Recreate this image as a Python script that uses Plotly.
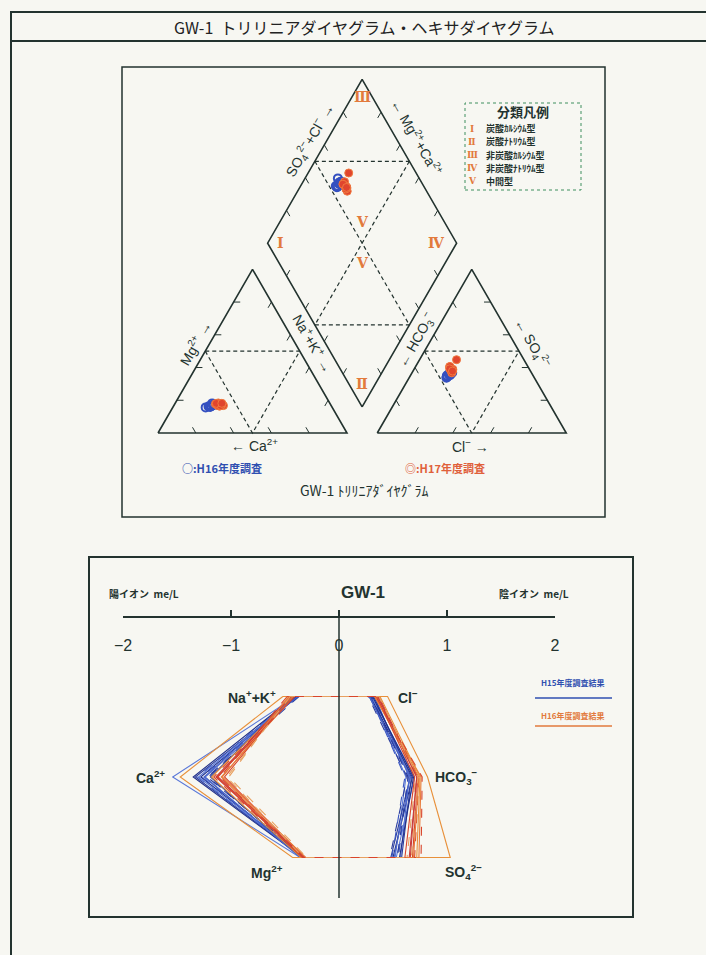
import math
import plotly.graph_objects as go

W, H = 706, 955

# ---- water quality data (me/L) ----
# blue series: piper "H16年度調査" / hexa "H15年度調査結果"
blue_nak = [0.40, 0.38, 0.41, 0.39, 0.42, 0.37, 0.40, 0.43, 0.38, 0.41, 0.39, 0.40]
blue_ca = [1.54, 1.33, 1.31, 1.28, 1.25, 1.22, 1.30, 1.19, 1.27, 1.35, 1.24, 1.21]
blue_mg = [0.36, 0.33, 0.34, 0.32, 0.35, 0.31, 0.33, 0.35, 0.32, 0.34, 0.36, 0.33]
blue_cl = [0.30, 0.28, 0.31, 0.29, 0.33, 0.27, 0.30, 0.32, 0.29, 0.31, 0.28, 0.30]
blue_hco3 = [0.62, 0.66, 0.64, 0.68, 0.65, 0.63, 0.70, 0.67, 0.61, 0.69, 0.66, 0.64]
blue_so4 = [0.52, 0.48, 0.55, 0.50, 0.57, 0.47, 0.53, 0.58, 0.49, 0.56, 0.51, 0.54]

# red series: piper "H17年度調査" / hexa "H16年度調査結果"
red_nak = [0.52, 0.44, 0.46, 0.42, 0.45, 0.47, 0.43, 0.48, 0.44, 0.46, 0.41, 0.45]
red_ca = [1.47, 1.16, 1.12, 1.09, 1.06, 1.02, 1.18, 1.10, 1.14, 1.08, 1.13, 1.04]
red_mg = [0.43, 0.33, 0.31, 0.34, 0.32, 0.30, 0.35, 0.33, 0.32, 0.31, 0.34, 0.33]
red_cl = [0.45, 0.34, 0.36, 0.33, 0.37, 0.35, 0.38, 0.34, 0.36, 0.33, 0.35, 0.37]
red_hco3 = [0.82, 0.74, 0.72, 0.76, 0.73, 0.71, 0.75, 0.77, 0.72, 0.74, 0.70, 0.73]
red_so4 = [1.03, 0.70, 0.66, 0.74, 0.68, 0.63, 0.72, 0.76, 0.65, 0.69, 0.61, 0.67]

stiff_ticks = [-2, -1, 0, 1, 2]
type_names = ['炭酸ｶﾙｼｳﾑ型', '炭酸ﾅﾄﾘｳﾑ型', '非炭酸ｶﾙｼｳﾑ型', '非炭酸ﾅﾄﾘｳﾑ型', '中間型']
type_marks = ['Ⅰ', 'Ⅱ', 'Ⅲ', 'Ⅳ', 'Ⅴ']

DARK = '#23332f'
ORANGE = '#e27a3c'
BLUE = '#2f4fb0'
JP = 'Noto Sans CJK JP'
SANS = 'Liberation Sans, Arial'


def px(x):
    return x / W


def py(y):
    return 1 - y / H


# ---- piper geometry ----
ORG_X, ORG_Y, UNIT = 158, 433, 189
G = 0.16
HH = math.sqrt(3) / 2

B = (1 + G / 2, G * HH)
R = (1.5 + G / 2, (1 + G) * HH)
T = (1 + G / 2, (2 + G) * HH)
L = (0.5 + G / 2, (1 + G) * HH)


def mid(p, q):
    return ((p[0] + q[0]) / 2, (p[1] + q[1]) / 2)


def piper_points(nak, ca, mg, cl, hco3, so4):
    pts = []
    for i in range(len(nak)):
        ct = nak[i] + ca[i] + mg[i]
        at = cl[i] + hco3[i] + so4[i]
        fna, fmg, fca = nak[i] / ct, mg[i] / ct, ca[i] / ct
        fcl, fso4 = cl[i] / at, so4[i] / at
        pts.append((fna + fmg / 2, fmg * HH))
        pts.append((1 + G + fcl + fso4 / 2, fso4 * HH))
        a = fso4 + fcl
        c = fca + fmg
        pts.append((B[0] + 0.5 * (a - c), B[1] + HH * (a + c)))
    return [p[0] for p in pts], [p[1] for p in pts]


def seg_xy(segs):
    xs, ys = [], []
    for s in segs:
        for p in s:
            xs.append(p[0])
            ys.append(p[1])
        xs.append(None)
        ys.append(None)
    return xs, ys


fig = go.Figure()

# outlines
outline = [
    [(0, 0), (1, 0), (0.5, HH), (0, 0)],
    [(1 + G, 0), (2 + G, 0), (1.5 + G, HH), (1 + G, 0)],
    [B, R, T, L, B],
]
x, y = seg_xy(outline)
fig.add_trace(go.Scatter(x=x, y=y, mode='lines', line=dict(color=DARK, width=1.6),
                         hoverinfo='skip', xaxis='x', yaxis='y'))

dashed = [
    [(0.25, HH / 2), (0.75, HH / 2)],
    [(0.25, HH / 2), (0.5, 0), (0.75, HH / 2)],
    [(1.25 + G, HH / 2), (1.75 + G, HH / 2)],
    [(1.25 + G, HH / 2), (1.5 + G, 0), (1.75 + G, HH / 2)],
    [mid(L, T), mid(T, R)],
    [mid(L, B), mid(B, R)],
    [mid(L, T), mid(B, R)],
    [mid(T, R), mid(L, B)],
]
x, y = seg_xy(dashed)
fig.add_trace(go.Scatter(x=x, y=y, mode='lines', line=dict(color=DARK, width=1.2, dash='4px,3px'),
                         hoverinfo='skip', xaxis='x', yaxis='y'))

# tick marks at 20 % steps, pointing inward
sides = [
    ((1, 0), (0, 0), (-0.5, HH)),
    ((0, 0), (0.5, HH), (1, 0)),
    ((0.5, HH), (1, 0), (-0.5, -HH)),
    ((1 + G, 0), (2 + G, 0), (0.5, HH)),
    ((2 + G, 0), (1.5 + G, HH), (-1, 0)),
    ((1.5 + G, HH), (1 + G, 0), (0.5, -HH)),
    (L, T, (0.5, -HH)),
    (T, R, (-0.5, -HH)),
    (L, B, (0.5, HH)),
    (B, R, (-0.5, HH)),
]
ticks = []
for p, q, d in sides:
    for k in (0.2, 0.4, 0.6, 0.8):
        sx = p[0] + k * (q[0] - p[0])
        sy = p[1] + k * (q[1] - p[1])
        ticks.append([(sx, sy), (sx + 0.035 * d[0], sy + 0.035 * d[1])])
x, y = seg_xy(ticks)
fig.add_trace(go.Scatter(x=x, y=y, mode='lines', line=dict(color=DARK, width=1),
                         hoverinfo='skip', xaxis='x', yaxis='y'))

# sample points
bx, by = piper_points(blue_nak, blue_ca, blue_mg, blue_cl, blue_hco3, blue_so4)
rx, ry = piper_points(red_nak, red_ca, red_mg, red_cl, red_hco3, red_so4)
fig.add_trace(go.Scatter(x=bx, y=by, mode='markers', xaxis='x', yaxis='y',
                         marker=dict(symbol='circle-open', size=8, color='#3550c0',
                                     line=dict(width=2, color='#3550c0'))))
fig.add_trace(go.Scatter(x=rx, y=ry, mode='markers', xaxis='x', yaxis='y',
                         marker=dict(symbol='circle', size=8, color='#e0452e',
                                     line=dict(width=1, color='#f07a40'))))

# ---- stiff (hexa) diagram ----
blue_styles = [('#5a78d8', 'solid'), ('#2b3d9e', 'solid'), ('#3a55c0', 'dash'),
               ('#1f2f8a', 'solid'), ('#4a66cc', 'solid'), ('#2b3d9e', 'dash')]
red_styles = [('#e8903a', 'solid'), ('#d9452b', 'dash'), ('#c83a3a', 'solid'),
              ('#e87a3a', 'solid'), ('#d9452b', 'solid'), ('#e8a060', 'dash')]


def add_stiff(nak, ca, mg, cl, hco3, so4, styles):
    for i in range(len(nak)):
        col, dash = styles[i % len(styles)]
        fig.add_trace(go.Scatter(
            x=[-nak[i], -ca[i], -mg[i], so4[i], hco3[i], cl[i], -nak[i]],
            y=[3, 2, 1, 1, 2, 3, 3], mode='lines', xaxis='x2', yaxis='y2',
            line=dict(color=col, width=1.1, dash=dash), hoverinfo='skip'))


add_stiff(blue_nak, blue_ca, blue_mg, blue_cl, blue_hco3, blue_so4, blue_styles)
add_stiff(red_nak, red_ca, red_mg, red_cl, red_hco3, red_so4, red_styles)

# ---- shapes ----
shapes = [
    dict(type='rect', xref='paper', yref='paper', x0=px(11), x1=px(730), y0=py(970), y1=py(12),
         line=dict(color=DARK, width=2)),
    dict(type='line', xref='paper', yref='paper', x0=px(11), x1=px(730), y0=py(41), y1=py(41),
         line=dict(color=DARK, width=2)),
    dict(type='rect', xref='paper', yref='paper', x0=px(122), x1=px(605), y0=py(517), y1=py(67),
         line=dict(color=DARK, width=1.5)),
    dict(type='rect', xref='paper', yref='paper', x0=px(465), x1=px(581), y0=py(190), y1=py(103),
         line=dict(color='#3f8f5f', width=1, dash='dot')),
    dict(type='rect', xref='paper', yref='paper', x0=px(89), x1=px(633), y0=py(917), y1=py(557),
         line=dict(color=DARK, width=2)),
    dict(type='line', xref='x2', yref='paper', x0=0, x1=0, y0=py(898), y1=py(612),
         line=dict(color=DARK, width=1.5), layer='above'),
    dict(type='line', xref='paper', yref='paper', x0=px(535), x1=px(612), y0=py(698), y1=py(698),
         line=dict(color=BLUE, width=1.5)),
    dict(type='line', xref='paper', yref='paper', x0=px(535), x1=px(612), y0=py(726), y1=py(726),
         line=dict(color=ORANGE, width=1.5)),
]


def ann(text, x, y, size, color=DARK, family=SANS, angle=0, xanchor='center'):
    return dict(text=text, x=px(x), y=py(y), xref='paper', yref='paper', showarrow=False,
                textangle=angle, xanchor=xanchor, yanchor='middle',
                font=dict(size=size, color=color, family=family))


def unit_px(p):
    return ORG_X + p[0] * UNIT, ORG_Y - p[1] * UNIT


annotations = [
    ann('GW-1  トリリニアダイヤグラム・ヘキサダイヤグラム', 364, 27, 16, color='#222', family=JP),
    # piper axis labels
    ann('Mg<sup>2+</sup> →', 195, 343, 14, angle=-60),
    ann('Na<sup>+</sup>+K<sup>+</sup> →', 313, 343, 14, angle=60),
    ann('← Ca<sup>2+</sup>', 254, 445, 14),
    ann('← HCO<sub>3</sub><sup>−</sup>', 416, 340, 14, angle=-60),
    ann('← SO<sub>4</sub><sup>2−</sup>', 532, 343, 14, angle=60),
    ann('Cl<sup>−</sup> →', 471, 446, 14),
    ann('SO<sub>4</sub><sup>2−</sup>+Cl<sup>−</sup> →', 310, 140, 14, angle=-60),
    ann('← Mg<sup>2+</sup>+Ca<sup>2+</sup>', 417, 137, 14, angle=60),
    ann('<b>○:H16年度調査</b>', 222, 468, 11, color=BLUE, family=JP),
    ann('<b>◎:H17年度調査</b>', 445, 468, 11, color='#e0603a', family=JP),
    ann('GW-1 ﾄﾘﾘﾆｱﾀﾞｲﾔｸﾞﾗﾑ', 364, 490, 14, family=JP),
    ann('<b>分類凡例</b>', 523, 112, 13, family=JP),
    # stiff labels
    ann('<b>GW-1</b>', 363, 592, 17),
    ann('<b>陽イオン  me/L</b>', 107, 593, 10, family=JP, xanchor='left'),
    ann('<b>陰イオン  me/L</b>', 497, 593, 10, family=JP, xanchor='left'),
    ann('<b>Na<sup>+</sup>+K<sup>+</sup></b>', 252, 697, 14),
    ann('<b>Cl<sup>−</sup></b>', 408, 697, 14),
    ann('<b>Ca<sup>2+</sup></b>', 150, 777, 14),
    ann('<b>HCO<sub>3</sub><sup>−</sup></b>', 456, 777, 14),
    ann('<b>Mg<sup>2+</sup></b>', 267, 872, 14),
    ann('<b>SO<sub>4</sub><sup>2−</sup></b>', 463, 872, 14),
    ann('<b>H15年度調査結果</b>', 573, 682, 8, color=BLUE, family=JP),
    ann('<b>H16年度調査結果</b>', 573, 715, 8, color=ORANGE, family=JP),
]

# region numerals placed inside the diamond
cx, cy = unit_px(mid(L, R))
tx, ty = unit_px(T)
bxp, byp = unit_px(B)
lx, _ = unit_px(L)
rxp, _ = unit_px(R)
for txt, xx, yy in [('Ⅲ', tx, ty + 18), ('Ⅰ', lx + 13, cy), ('Ⅳ', rxp - 20, cy),
                    ('Ⅴ', cx, cy - 21), ('Ⅴ', cx, cy + 20), ('Ⅱ', bxp, byp - 23)]:
    annotations.append(ann('<b>' + txt + '</b>', xx, yy, 14, color=ORANGE, family='DejaVu Serif'))

for i, (mark, name) in enumerate(zip(type_marks, type_names)):
    yy = 129 + i * 13
    annotations.append(ann('<b>' + mark + '</b>', 472, yy, 9, color=ORANGE, family='DejaVu Serif'))
    annotations.append(ann('<b>' + name + '</b>', 484, yy, 9, family=JP, xanchor='left'))

x_lo = (122 - ORG_X) / UNIT
x_hi = (605 - ORG_X) / UNIT
y_lo = (ORG_Y - 517) / UNIT
y_hi = (ORG_Y - 67) / UNIT

fig.update_layout(
    width=W, height=H, autosize=False, margin=dict(l=0, r=0, t=0, b=0, pad=0, autoexpand=False),
    paper_bgcolor='#f7f7f2', plot_bgcolor='rgba(0,0,0,0)', showlegend=False,
    xaxis=dict(domain=[px(122), px(605)], range=[x_lo, x_hi], visible=False),
    yaxis=dict(domain=[py(517), py(67)], range=[y_lo, y_hi], visible=False),
    xaxis2=dict(domain=[px(123), px(555)], range=[-2, 2], anchor='free', position=py(617),
                showline=True, linecolor=DARK, linewidth=2, ticks='inside', ticklen=6,
                tickwidth=2, tickcolor=DARK, tickvals=stiff_ticks, showgrid=False,
                zeroline=False, ticklabelstandoff=14,
                tickfont=dict(size=16, color=DARK, family=SANS)),
    yaxis2=dict(domain=[py(900), py(600)], range=[0.472, 4.199], anchor='x2', visible=False),
    shapes=shapes, annotations=annotations,
)

fig.write_html('out.html', config={'responsive': False, 'displayModeBar': False},
               post_script="document.body.style.margin='0';document.body.style.overflow='hidden';")
